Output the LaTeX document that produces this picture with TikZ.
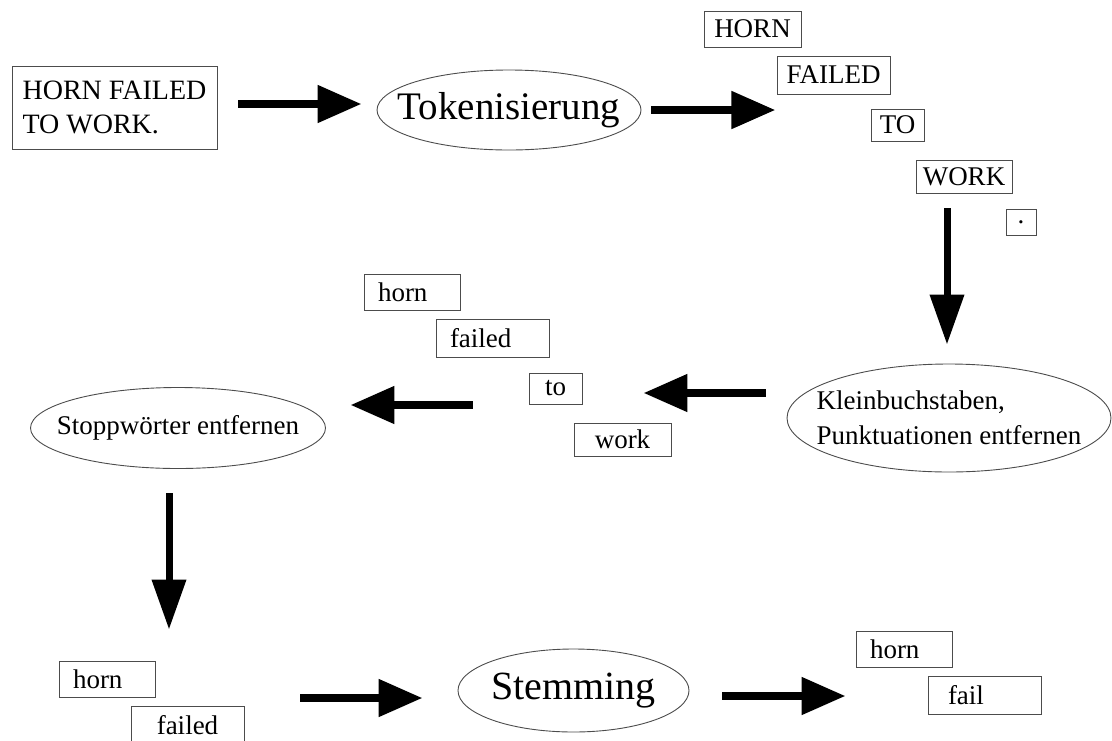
\documentclass[tikz,border=0pt]{standalone}
\usepackage{fontspec}
\setmainfont{Liberation Serif}
\usetikzlibrary{arrows.meta,shapes.geometric}

\begin{document}
\begin{tikzpicture}[x=1pt,y=-1pt,
    wbox/.style={draw=black!70,line width=0.9pt,rectangle,inner xsep=4pt,inner ysep=0pt,
      font=\fontsize{27}{32}\selectfont},
    stage/.style={draw=black!70,line width=0.9pt,ellipse,inner xsep=-24pt,inner ysep=0pt},
    arr/.style={line width=8pt,-{Triangle[length=44pt,width=36pt]}},
    darr/.style={line width=7pt,-{Triangle[length=50pt,width=33pt]}}]
  \useasboundingbox (0,0) rectangle (1112,740);

  % input sentence and processing steps
  \node[wbox,minimum width=205pt,minimum height=83pt,align=left,
    font=\fontsize{28}{34}\selectfont] (in) at (114.5,107.5) {HORN FAILED\\TO WORK.};
  \node[stage,minimum width=264pt,minimum height=80pt,
    font=\fontsize{39}{44}\selectfont] (tok) at (509,110) {Tokenisierung};
  \node[stage,minimum width=324pt,minimum height=108pt,align=left,
    font=\fontsize{27}{35}\selectfont] (klein) at (949,418) {Kleinbuchstaben,\\Punktuationen entfernen};
  \node[stage,minimum width=295pt,minimum height=81pt,
    font=\fontsize{27}{32}\selectfont] (stop) at (178,428) {Stoppwörter entfernen};
  \node[stage,minimum width=231pt,minimum height=83pt,
    font=\fontsize{40}{46}\selectfont] (stem) at (573.5,690.5) {Stemming};

  % tokens
  \foreach \n/\t/\x/\y/\w/\h in {u1/HORN/752.5/29/97/36, u2/FAILED/833.5/75/113/38,
      u3/TO/897.5/125/53/32, u4/WORK/964/176.5/96/33, u5/./1021/222/30/26} {
    \node[wbox,minimum width=\w pt,minimum height=\h pt] (\n) at (\x,\y) {\t};
  }
  \foreach \n/\t/\x/\y/\w/\h/\p/\al in {
      horn2/horn/412/292/96/36/14/left, failed2/failed/492.5/338/113/38/14/left,
      to2/to/555.5/388.5/53/31/4/center, work2/work/622.5/439.5/97/33/4/center,
      horn3/horn/107/679/96/36/14/left, failed3/failed/187.5/725/113/38/4/center,
      horn4/horn/904/649/96/36/14/left, fail4/fail/984.5/695/113/38/20/left} {
    \pgfmathsetmacro\tw{\w-2*\p}
    \node[wbox,minimum height=\h pt,inner xsep=\p pt,text width=\tw pt,align=\al] (\n) at (\x,\y) {\t};
  }

  % arrows
  \draw[arr] ([xshift=21pt,yshift=3.5pt]in.east) -- ([xshift=-15pt,yshift=6pt]tok.west);
  \draw[arr] ([xshift=10pt]tok.east) -- ([xshift=134pt]tok.east);
  \draw[darr] ([xshift=-17pt,yshift=-15pt]u4.south) -- ([xshift=-2pt,yshift=19pt]klein.north);
  \draw[arr] ([xshift=-21pt,yshift=25pt]klein.west) -- ([xshift=61pt,yshift=-4.5pt]to2.east);
  \draw[arr] ([xshift=-56pt,yshift=-16.5pt]to2.west) -- ([xshift=24.5pt,yshift=23pt]stop.east);
  \draw[darr] ([xshift=-9pt,yshift=-24.5pt]stop.south) -- ([xshift=62pt,yshift=31pt]horn3.north);
  \draw[arr] ([xshift=145pt,yshift=-19pt]horn3.east) -- ([xshift=-35pt,yshift=-7.5pt]stem.west);
  \draw[arr] ([xshift=33pt,yshift=-5.5pt]stem.east) -- ([xshift=-82pt,yshift=-1pt]fail4.west);
\end{tikzpicture}
\end{document}
